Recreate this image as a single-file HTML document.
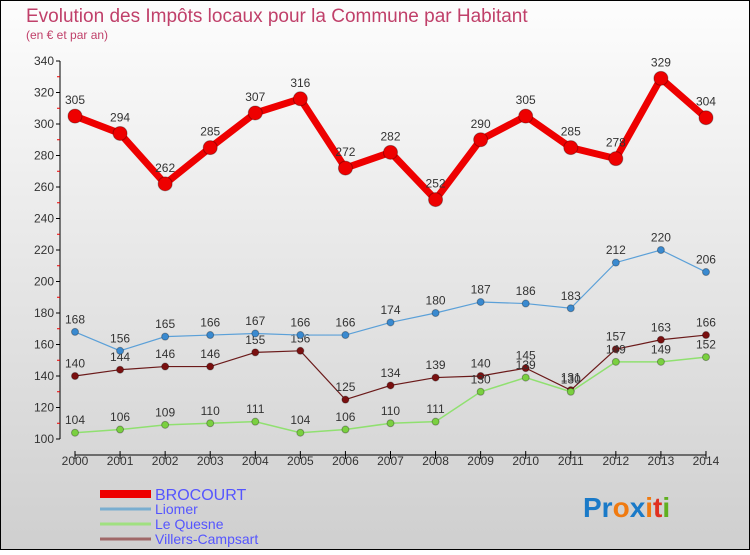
<!DOCTYPE html>
<html><head><meta charset="utf-8"><style>
body{margin:0;width:750px;height:550px;overflow:hidden;font-family:"Liberation Sans",sans-serif}
</style></head><body>
<svg id="c" width="750" height="550" xmlns="http://www.w3.org/2000/svg">
<defs><linearGradient id="bg" x1="0" y1="0" x2="0" y2="1"><stop offset="0" stop-color="#fdfdfd"/><stop offset="1" stop-color="#cfcfcf"/></linearGradient></defs>
<rect x="0.5" y="0.5" width="749" height="549" fill="url(#bg)" stroke="#000"/>
<text x="26" y="22" font-size="19" fill="#c0406a">Evolution des Impôts locaux pour la Commune par Habitant</text>
<text x="26" y="39" font-size="12" fill="#c0406a">(en € et par an)</text>
<g id="axes"></g><g id="series"></g><g id="legend"></g>
<text x="583" y="517" font-size="28" font-weight="bold"><tspan fill="#1a7ac8">Pr</tspan><tspan fill="#f07a10">o</tspan><tspan fill="#1a7ac8">x</tspan><tspan fill="#f07a10">i</tspan><tspan fill="#e03020">t</tspan><tspan fill="#60b020">i</tspan></text>
</svg>
<script>
const years=[2000,2001,2002,2003,2004,2005,2006,2007,2008,2009,2010,2011,2012,2013,2014];
const brocourt=[305,294,262,285,307,316,272,282,252,290,305,285,278,329,304];
const liomer=[168,156,165,166,167,166,166,174,180,187,186,183,212,220,206];
const leQuesne=[104,106,109,110,111,104,106,110,111,130,139,130,149,149,152];
const villers=[140,144,146,146,155,156,125,134,139,140,145,131,157,163,166];
const yTicks=[100,120,140,160,180,200,220,240,260,280,300,320,340];
const NS="http://www.w3.org/2000/svg";
const X=i=>75+i*45.07, Y=v=>439-(v-100)*1.575;
function mk(t,a,p){const e=document.createElementNS(NS,t);for(const k in a)e.setAttribute(k,a[k]);p.appendChild(e);return e;}
const ax=document.getElementById('axes');
let l=mk('line',{x1:60,y1:Y(340),x2:60,y2:Y(100),stroke:'#000'},ax);


for(let v=110;v<340;v+=20){mk('line',{x1:57,y1:Y(v),x2:60,y2:Y(v),stroke:'#e00'},ax);}
yTicks.forEach(v=>{mk('line',{x1:56,y1:Y(v),x2:60,y2:Y(v),stroke:'#000'},ax);
const t=mk('text',{x:54,y:Y(v)+4,'font-size':12,'text-anchor':'end',fill:'#333'},ax);t.textContent=v;

});
l=mk('line',{x1:X(0),y1:455,x2:X(14),y2:455,stroke:'#000'},ax);


years.forEach((y,i)=>{mk('line',{x1:X(i),y1:451,x2:X(i),y2:459,stroke:'#000'},ax);
const t=mk('text',{x:X(i),y:465,'font-size':12,'text-anchor':'middle',fill:'#333'},ax);t.textContent=y;

});
const sg=document.getElementById('series');
const S=[[villers,'#6b1a1a','#7a1010',1.2,3.5,'villers-campsart'],[leQuesne,'#90e070','#7ad040',1.5,3.5,'le-quesne'],[liomer,'#5ba0d8','#3a8ad0',1.2,3.5,'liomer'],[brocourt,'#ee0000','#ee0000',7,7,'brocourt']];
S.forEach(([d,lc,pc,w,r,n])=>{
const p=mk('polyline',{points:d.map((v,i)=>X(i)+','+Y(v)).join(' '),fill:'none',stroke:lc,'stroke-width':w},sg);


d.forEach((v,i)=>{const c=mk('circle',{cx:X(i),cy:Y(v),r:r,fill:pc,stroke:'rgba(0,0,0,0.3)'},sg);


const t=mk('text',{x:X(i),y:Y(v)-(r+5),'font-size':12,'text-anchor':'middle',fill:'#333'},sg);t.textContent=v;

});});
const lg=document.getElementById('legend');
[['BROCOURT','#ee0000',8,500],['Liomer','#7aaed0',3,514],['Le Quesne','#a0e080',3,529],['Villers-Campsart','#a06868',3,544]].forEach(([n,c,w,y])=>{
const g=mk('g',{},lg);


mk('line',{x1:100,y1:y-8+(w>4?2:3),x2:151,y2:y-8+(w>4?2:3),stroke:c,'stroke-width':w},g);
const t=mk('text',{x:155,y:y,'font-size':w>4?16:14,fill:'#5555ff'},g);t.textContent=n;});
</script>
</body></html>
